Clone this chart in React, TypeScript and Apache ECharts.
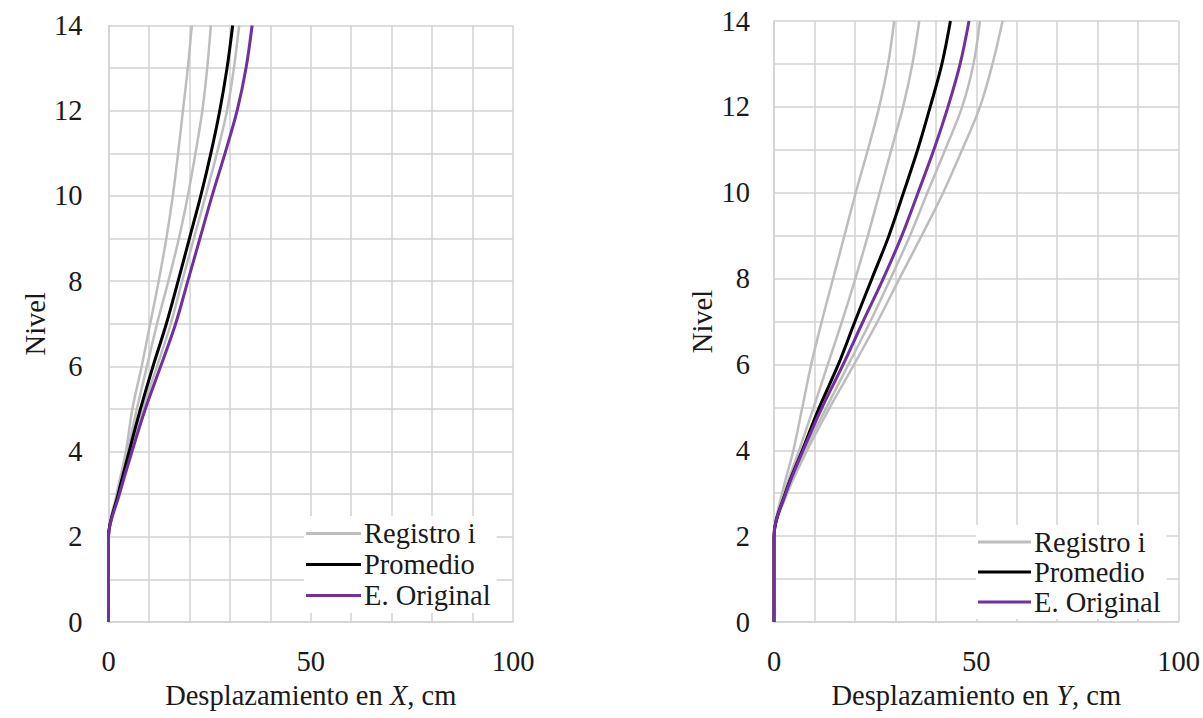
import React, { useEffect, useRef } from "react";
import * as echarts from "echarts";

// Levels (Nivel)
const levels = [0, 1, 2, 3, 4, 5, 6, 7, 8, 9, 10, 11, 12, 13, 14];

// Panel X: displacement (cm) per level
const xRegistro1 = [0, 0, 0, 2.0, 4.3, 5.9, 8.2, 10.3, 12.4, 14.3, 15.9, 17.2, 18.4, 19.6, 20.6];
const xRegistro2 = [0, 0, 0, 2.2, 4.7, 7.0, 9.5, 12.0, 14.8, 17.4, 19.6, 21.5, 23.2, 24.4, 25.3];
const xRegistro3 = [0, 0, 0, 2.6, 5.4, 8.4, 12.0, 15.4, 18.2, 21.1, 24.0, 26.8, 29.3, 31.0, 32.3];
const xPromedio = [0, 0, 0, 2.4, 5.1, 7.9, 11.0, 14.3, 17.2, 20.0, 22.8, 25.3, 27.5, 29.3, 30.7];
const xOriginal = [0, 0, 0, 2.7, 5.8, 9.1, 12.9, 16.6, 19.6, 22.6, 25.6, 28.8, 31.8, 34.0, 35.5];

// Panel Y: displacement (cm) per level
const yRegistro1 = [0, 0, 0, 2.0, 4.8, 7.0, 9.2, 11.8, 14.6, 17.4, 20.2, 23.2, 26.0, 28.2, 29.7];
const yRegistro2 = [0, 0, 0, 2.5, 6.2, 9.8, 13.3, 16.8, 20.1, 23.2, 26.1, 29.0, 31.9, 34.2, 35.9];
const yRegistro3 = [0, 0, 0, 3.1, 7.6, 13.0, 18.4, 23.8, 28.8, 33.6, 37.9, 42.3, 46.5, 49.3, 50.9];
const yRegistro4 = [0, 0, 0, 3.3, 8.2, 13.8, 19.8, 25.6, 31.0, 36.5, 41.8, 46.5, 50.9, 54.0, 56.5];
const yPromedio = [0, 0, 0, 2.8, 7.0, 11.2, 15.9, 20.0, 24.2, 28.4, 32.0, 35.5, 38.6, 41.5, 43.6];
const yOriginal = [0, 0, 0, 2.9, 7.2, 11.9, 17.1, 22.0, 27.0, 31.6, 35.6, 39.5, 43.0, 46.0, 48.2];

const legendNames = ["Registro i", "Promedio", "E. Original"];
const xAxisTicks = { min: 0, max: 100, interval: 50 };
const yAxisTicks = { min: 0, max: 14, interval: 2 };

const FONT = "Liberation Serif";
const FS = 28.5;
const TEXT = "#1a1a1a";
const GRIDC = "#d2d2d2";
const GRAY = "#bdbdbd";
const BLACK = "#000000";
const PURPLE = "#7030a0";

const toPts = (vals: number[]) => vals.map((v, i) => [v, levels[i]]);

export default function App() {
  const ref = useRef<HTMLDivElement>(null);
  useEffect(() => {
    document.body.style.margin = "0";
    if (!ref.current) return;
    const chart = echarts.init(ref.current, undefined, { renderer: "svg" });

    const mkLine = (name: string, vals: number[], color: string, width: number, idx: number) => ({
      name,
      type: "line",
      xAxisIndex: idx,
      yAxisIndex: idx,
      data: toPts(vals),
      showSymbol: false,
      symbol: "none",
      smooth: 0.35,
      lineStyle: { color, width },
      itemStyle: { color },
      emphasis: { disabled: true },
      z: 2,
    });

    const xAxisBase = (idx: number, letter: string) => ({
      type: "value",
      gridIndex: idx,
      min: xAxisTicks.min,
      max: xAxisTicks.max,
      interval: xAxisTicks.interval,
      axisLine: { show: true, lineStyle: { color: GRIDC, width: 1.5 } },
      axisTick: { show: false },
      axisLabel: { color: TEXT, fontFamily: FONT, fontSize: FS, margin: 25 },
      splitLine: { show: true, lineStyle: { color: GRIDC, width: 1.5 } },
      minorTick: { show: false, splitNumber: 5 },
      minorSplitLine: { show: true, lineStyle: { color: GRIDC, width: 1.5 } },
      name: `{a|Desplazamiento en }{i|${letter}}{a|, cm}`,
      nameLocation: "middle",
      nameGap: 59,
      nameTextStyle: {
        color: TEXT,
        fontFamily: FONT,
        fontSize: FS,
        rich: {
          a: { color: TEXT, fontFamily: FONT, fontSize: FS },
          i: { color: TEXT, fontFamily: FONT, fontSize: FS, fontStyle: "italic" },
        },
      },
    });

    const yAxisBase = (idx: number, margin: number) => ({
      type: "value",
      gridIndex: idx,
      min: yAxisTicks.min,
      max: yAxisTicks.max,
      interval: yAxisTicks.interval,
      axisLine: { show: true, lineStyle: { color: GRIDC, width: 1.5 } },
      axisTick: { show: false },
      axisLabel: { color: TEXT, fontFamily: FONT, fontSize: FS, margin },
      splitLine: { show: true, lineStyle: { color: GRIDC, width: 1.5 } },
      minorTick: { show: false, splitNumber: 2 },
      minorSplitLine: { show: true, lineStyle: { color: GRIDC, width: 1.5 } },
      name: "Nivel",
      nameLocation: "middle",
      nameRotate: 90,
      nameGap: 57,
      nameTextStyle: { color: TEXT, fontFamily: FONT, fontSize: FS },
    });

    const legendBase = (left: number, top: number, lh: number, iw: number) => ({
      orient: "vertical",
      left,
      top,
      icon: "rect",
      itemWidth: iw,
      itemHeight: 3,
      itemGap: 0,
      padding: [2, 6, 2, 2],
      backgroundColor: "#ffffff",
      selectedMode: false,
      textStyle: { color: TEXT, fontFamily: FONT, fontSize: FS, lineHeight: lh, padding: [0, 0, 0, -2] },
      data: legendNames,
    });

    chart.setOption({
      animation: false,
      backgroundColor: "#ffffff",
      grid: [
        { left: 108.5, top: 25.5, width: 404.5, height: 596.5 },
        { left: 774, top: 21, width: 405, height: 601 },
      ],
      xAxis: [xAxisBase(0, "X"), xAxisBase(1, "Y")],
      yAxis: [yAxisBase(0, 26), yAxisBase(1, 24)],
      legend: [legendBase(304, 516, 31, 55), legendBase(976, 525, 30, 53)],
      series: [
        mkLine("Registro i", xRegistro1, GRAY, 2.5, 0),
        mkLine("Registro i", xRegistro2, GRAY, 2.5, 0),
        mkLine("Registro i", xRegistro3, GRAY, 2.5, 0),
        mkLine("Promedio", xPromedio, BLACK, 3, 0),
        mkLine("E. Original", xOriginal, PURPLE, 3, 0),
        mkLine("Registro i", yRegistro1, GRAY, 2.5, 1),
        mkLine("Registro i", yRegistro2, GRAY, 2.5, 1),
        mkLine("Registro i", yRegistro3, GRAY, 2.5, 1),
        mkLine("Registro i", yRegistro4, GRAY, 2.5, 1),
        mkLine("Promedio", yPromedio, BLACK, 3, 1),
        mkLine("E. Original", yOriginal, PURPLE, 3, 1),
      ],
    });
    return () => chart.dispose();
  }, []);
  return <div ref={ref} style={{ width: 1203, height: 718 }} />;
}
